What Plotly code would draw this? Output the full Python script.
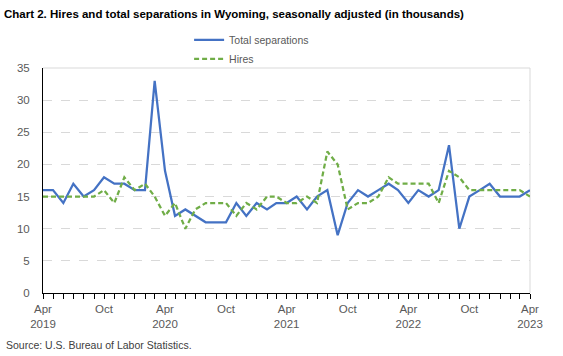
import pandas as pd
import plotly.graph_objects as go

months = pd.date_range("2019-04-01", periods=49, freq="MS")

total_separations = [16, 16, 14, 17, 15, 16, 18, 17, 17, 16, 16, 33,
                     19, 12, 13, 12, 11, 11, 11, 14, 12, 14, 13, 14,
                     14, 15, 13, 15, 16, 9, 14, 16, 15, 16, 17, 16,
                     14, 16, 15, 16, 23, 10, 15, 16, 17, 15, 15, 15,
                     16]
hires = [15, 15, 15, 15, 15, 15, 16, 14, 18, 16, 17, 15,
         12, 14, 10, 13, 14, 14, 14, 12, 14, 13, 15, 15,
         14, 14, 15, 14, 22, 20, 13, 14, 14, 15, 18, 17,
         17, 17, 17, 14, 19, 18, 16, 16, 16, 16, 16, 16,
         15]

tick_dates = pd.date_range("2019-04-01", "2023-04-01", freq="6MS")
tick_labels = []
for d in tick_dates:
    if d.month == 4:
        tick_labels.append(f"Apr<br>{d.year}")
    else:
        tick_labels.append("Oct")

y_ticks = [0, 5, 10, 15, 20, 25, 30, 35]

FONT = "Liberation Sans"
GREY = "#595959"

fig = go.Figure()
fig.add_trace(go.Scatter(x=months, y=total_separations, mode="lines",
                         name="Total separations",
                         line=dict(color="#4472C4", width=2.25)))
fig.add_trace(go.Scatter(x=months, y=hires, mode="lines", name="Hires",
                         line=dict(color="#70AD47", width=2.25, dash="5px,3px")))

fig.update_layout(
    width=563, height=356,
    margin=dict(l=43, r=33, t=68, b=63),
    paper_bgcolor="white", plot_bgcolor="white",
    font=dict(family=FONT, size=11, color=GREY),
    title=dict(text="<b>Chart 2. Hires and total separations in Wyoming, seasonally adjusted (in thousands)</b>",
               x=4/563, xanchor="left", xref="container",
               y=1-14/356, yanchor="middle", yref="container",
               font=dict(family=FONT, size=11.5, color="#000000")),
    legend=dict(x=0.30, xanchor="left", y=1.19, yanchor="top",
                orientation="v", font=dict(size=10.5, color=GREY),
                bgcolor="rgba(0,0,0,0)", tracegroupgap=0,
                itemwidth=30),
    showlegend=True,
)

fig.update_xaxes(
    type="date",
    range=[months[0], months[-1]],
    tickmode="array", tickvals=tick_dates, ticktext=tick_labels,
    ticks="outside", ticklen=5, tickcolor="#000000",
    showline=True, linecolor="#000000", linewidth=1,
    showgrid=False, zeroline=False,
    tickfont=dict(size=11.5, color=GREY),
    minor=dict(dtick="M1", tick0="2019-04-01", ticks="outside",
               ticklen=5, tickcolor="#000000", showgrid=False),
)
fig.update_yaxes(
    range=[0, 35], tickvals=y_ticks,
    showline=True, linecolor="#000000", linewidth=1,
    showgrid=True, gridcolor="#d9d9d9", griddash="dash", gridwidth=1,
    zeroline=False, ticks="", ticklabelstandoff=10,
    tickfont=dict(size=11.5, color=GREY),
)

# light plot-area border on top and right
fig.add_shape(type="line", xref="paper", yref="paper", x0=0, x1=1, y0=1, y1=1,
              line=dict(color="#d9d9d9", width=1), layer="below")
fig.add_shape(type="line", xref="paper", yref="paper", x0=1, x1=1, y0=0, y1=1,
              line=dict(color="#d9d9d9", width=1), layer="below")

fig.add_annotation(text="Source: U.S. Bureau of Labor Statistics.",
                   xref="paper", yref="paper", x=-39/487, y=-(345-293)/225,
                   xanchor="left", yanchor="middle", showarrow=False,
                   font=dict(size=10.5, color="#404040"))

fig.write_html("out.html", config={"displayModeBar": False},
               post_script="document.body.style.margin='0';document.body.style.overflow='hidden';")
